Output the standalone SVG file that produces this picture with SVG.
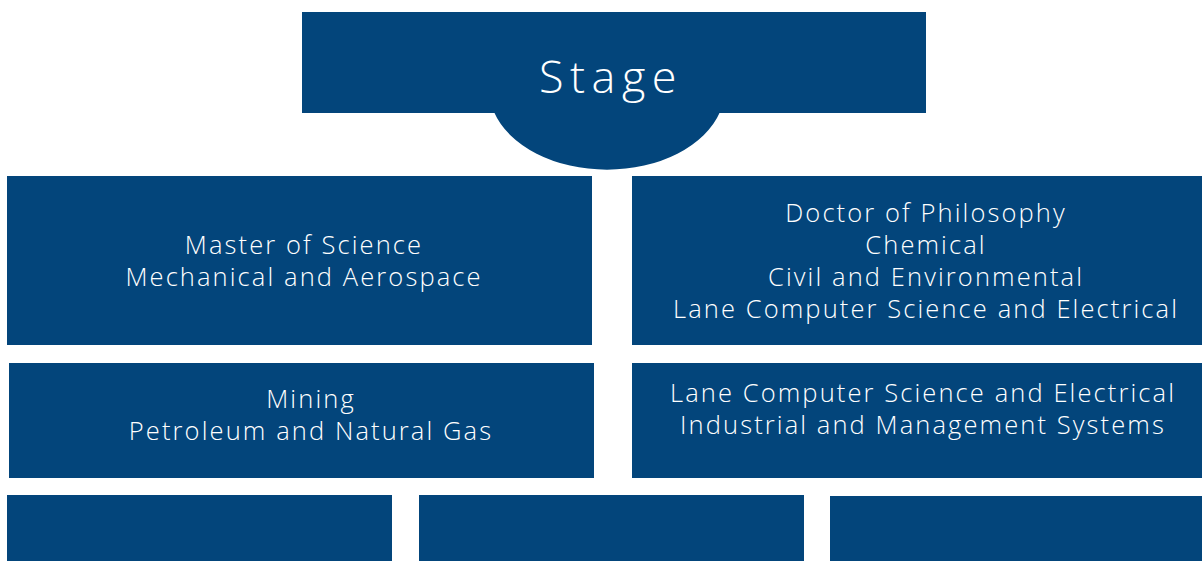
<svg xmlns="http://www.w3.org/2000/svg" width="1202" height="561" viewBox="0 0 1202 561">
<style>
.b{fill:#03457b}
.t{fill:#ffffff;font-family:"Open Sans","Liberation Sans",sans-serif;font-weight:350;font-size:25.5px;letter-spacing:2.1px;text-anchor:middle}
.s{font-size:45px;letter-spacing:6.5px;font-weight:300}
</style>
<rect width="1202" height="561" fill="#ffffff"/>
<g id="stage">
<rect class="b" x="302" y="12" width="624" height="101"/>
<path class="b" d="M494,112 A118,81 0 0 0 720,112 Z"/>
<text class="t s" x="611" y="93">Stage</text>
</g>
<g id="master">
<rect class="b" x="7" y="176" width="585" height="169"/>
<text class="t" x="304" y="254">Master of Science</text>
<text class="t" x="304" y="286">Mechanical and Aerospace</text>
</g>
<g id="doctor">
<rect class="b" x="632" y="176" width="570" height="169"/>
<text class="t" x="926" y="222">Doctor of Philosophy</text>
<text class="t" x="926" y="254">Chemical</text>
<text class="t" x="926" y="286">Civil and Environmental</text>
<text class="t" x="926" y="318">Lane Computer Science and Electrical</text>
</g>
<g id="mining">
<rect class="b" x="9" y="363" width="585" height="115"/>
<text class="t" x="311" y="408">Mining</text>
<text class="t" x="311" y="440">Petroleum and Natural Gas</text>
</g>
<g id="lane">
<rect class="b" x="632" y="363" width="570" height="115"/>
<text class="t" x="923" y="402">Lane Computer Science and Electrical</text>
<text class="t" x="923" y="434">Industrial and Management Systems</text>
</g>
<g id="bottom1"><rect class="b" x="7" y="495" width="385" height="66"/></g>
<g id="bottom2"><rect class="b" x="419" y="495" width="385" height="66"/></g>
<g id="bottom3"><rect class="b" x="830" y="496" width="372" height="65"/></g>
<g id="connectors"></g>
</svg>
